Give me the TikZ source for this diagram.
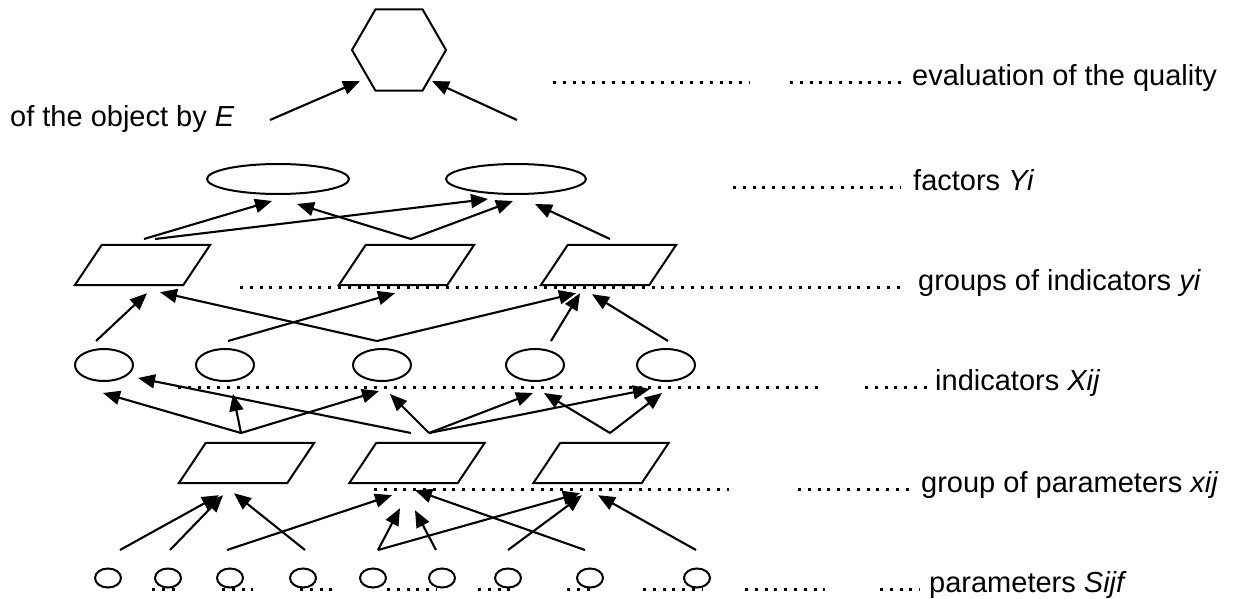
\documentclass[tikz,border=0pt]{standalone}
\usepackage{fontspec}
\setmainfont{Liberation Sans}
\usetikzlibrary{shapes.geometric, arrows.meta}

\begin{document}
\begin{tikzpicture}[x=1pt, y=-1pt,
    outline/.style={draw, line width=2pt, inner sep=0pt},
    oval/.style={outline, ellipse},
    parabox/.style={inner sep=0pt, minimum width=135pt, minimum height=40pt},
    arr/.style={-{Triangle[length=17pt,width=14pt]}, line width=2.1pt},
    leader/.style={line width=3pt, dash pattern=on 3pt off 6.8pt},
    lbl/.style={anchor=base west, inner sep=0pt, font=\fontsize{29}{35}\selectfont}]
  \useasboundingbox (0,0) rectangle (1234,599);

  % shapes, top to bottom
  \node[outline, regular polygon, regular polygon sides=6, minimum size=94pt] (hex) at (399,50) {};
  \node[oval, minimum width=142pt, minimum height=30pt] (f1) at (278,179) {};
  \node[oval, minimum width=140pt, minimum height=30pt] (f2) at (516,179) {};
  \foreach \n/\x in {1/142.5, 2/406.5, 3/608.5}
    \node[parabox] (g\n) at (\x,265) {};
  \foreach \n/\x in {1/104, 2/225, 3/382, 4/535, 5/666}
    \node[oval, minimum width=58pt, minimum height=32pt] (x\n) at (\x,365) {};
  \foreach \n/\x in {1/246.5, 2/417, 3/601}
    \node[parabox] (p\n) at (\x,463) {};
  \foreach \n/\x in {1/108, 2/168, 3/230, 4/303, 5/373, 6/442, 7/508, 8/590, 9/697}
    \node[oval, minimum width=26pt, minimum height=19pt] (s\n) at (\x,578) {};
  \foreach \b in {g1,g2,g3,p1,p2,p3}
    \draw[line width=2pt] (\b.south west) -- ([xshift=-27pt]\b.south east)
      -- (\b.north east) -- ([xshift=27pt]\b.north west) -- cycle;

  % free ends of the arrows
  \coordinate (q1) at (270,120);
  \coordinate (q2) at (517,120);
  \foreach \n/\x in {1/144, 2/155, 3/411, 4/610}
    \coordinate (fa\n) at (\x,239);
  \foreach \n/\x in {1/96, 2/228, 3/377, 4/551, 5/668}
    \coordinate (ga\n) at (\x,341);
  \foreach \n/\x in {1/241, 2/411, 3/429, 4/610}
    \coordinate (xa\n) at (\x,433);
  \foreach \n/\x in {1/120, 2/170, 3/227, 4/305, 5/378, 6/436, 7/508, 8/585, 9/696}
    \coordinate (pa\n) at (\x,550);

  % arrows
  \draw[arr] (q1) -- ([shift={(-39,31)}]hex.center);
  \draw[arr] (q2) -- ([shift={(33,31)}]hex.center);
  \foreach \a/\b/\dx/\dy in {fa1/f1/-6/6, fa3/f1/19/9, fa2/f2/-28/4, fa3/f2/-3/6, fa4/f2/19/9,
      ga1/g1/4.5/8, ga3/g1/17.5/7, ga2/g2/-11.5/8, ga3/g3/-32.5/8, ga4/g3/-28.5/8, ga5/g3/-16.5/9,
      xa1/x1/-1/11, xa1/x2/8/12, xa1/x3/-3/9, xa3/x3/8/12, xa3/x4/-2/11, xa3/x5/-16/7,
      xa4/x4/9/11, xa4/x5/-4/11,
      pa1/p1/-27.5/12, pa2/p1/-23.5/12, pa4/p1/-12.5/10, pa3/p2/-25/12, pa5/p2/-17/25,
      pa6/p2/-2/27, pa8/p2/-2/7, pa5/p3/-21/10, pa7/p3/-19/12, pa9/p3/-3/12}
    \draw[arr] (\a) -- ([shift={(\dx,\dy)}]\b.south);
  \draw[arr] (xa2) -- ([shift={(34,13)}]x1.center);

  % dotted leaders
  \draw[leader] (553,83) -- (750,83);
  \draw[leader] (790,83) -- (902,83);
  \draw[leader] (733,187) -- (900,187);
  \draw[leader] (240,287) -- (906,287);
  \draw[leader] (178,387) -- (818,387);
  \draw[leader] (865,387) -- (928,387);
  \draw[leader] (374,489) -- (729,489);
  \draw[leader] (798,489) -- (910,489);
  \foreach \a/\b in {152/180, 222/253, 300/338, 387/437, 478/517, 567/595, 643/702, 745/825, 880/920}
    \draw[leader] (\a,589) -- (\b,589);

  % labels
  \node[lbl] (lq) at (912,86) {evaluation of the quality};
  \node[lbl] (lo) at (10,127) {of the object by \textit{E}};
  \node[lbl] (lf) at (913,190) {factors \textit{Yi}};
  \node[lbl] (lg) at (918,290) {groups of indicators \textit{yi}};
  \node[lbl] (lx) at (935,390) {indicators \textit{Xij}};
  \node[lbl] (lp) at (921,492) {group of parameters \textit{xij}};
  \node[lbl] (ls) at (929,592) {parameters \textit{Sijf}};
\end{tikzpicture}
\end{document}
